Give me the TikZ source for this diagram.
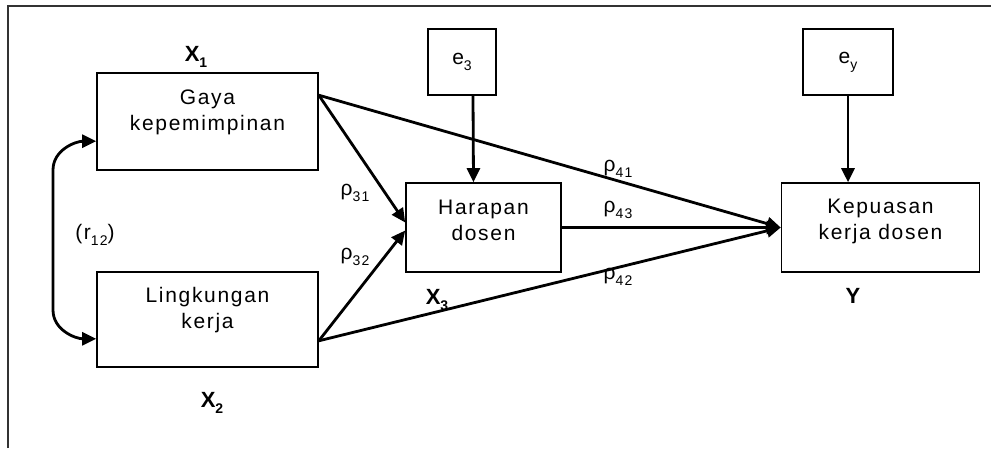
\documentclass[tikz,border=0pt]{standalone}
\usepackage{fontspec}
\setmainfont{Liberation Sans}[LetterSpace=8]
\usetikzlibrary{arrows.meta}
\newcommand{\sbs}[1]{\raisebox{-0.28em}{\fontsize{14}{14}\selectfont #1}}
\tikzset{
  box/.style={draw=black, line width=1.6pt, inner sep=0pt, fill=white},
  txt/.style={font=\fontsize{21}{26}\selectfont, align=center, inner sep=0pt},
  lbl/.style={font=\fontsize{21}{26}\selectfont, inner sep=0pt},
  xlbl/.style={font=\fontsize{22}{26}\selectfont\bfseries, inner sep=0pt},
  arr/.style={line width=2.8pt, -{Triangle[length=14pt,width=13pt]}},
}
\begin{document}
\begin{tikzpicture}[x=1pt,y=-1pt]
\useasboundingbox (0,0) rectangle (991,448);
% frame
\draw[line width=1.8pt, black!80] (8,448) -- (8,6) -- (991,6);
% boxes
\node[box, minimum width=221pt, minimum height=97pt] (gaya) at (207.5,121.5) {};
\node[box, minimum width=221pt, minimum height=95pt] (ling) at (207.5,319.5) {};
\node[box, minimum width=155pt, minimum height=89pt] (har) at (483.5,227.5) {};
\node[box, minimum width=198pt, minimum height=89pt] (kep) at (880.5,227.5) {};
\node[box, minimum width=68pt, minimum height=66pt] (e3) at (462,62) {};
\node[box, minimum width=90pt, minimum height=66pt] (ey) at (848,62) {};
% box texts
\node[txt] at ([yshift=9pt]gaya.center) {Gaya\\kepemimpinan};
\node[txt] at ([yshift=9pt]ling.center) {Lingkungan\\kerja};
\node[txt] at ([yshift=7pt]har.center) {Harapan\\dosen};
\node[txt] at ([yshift=6pt]kep.center) {Kepuasan\\kerja dosen};
\node[lbl] at (e3.center) {e\sbs{3}};
\node[lbl] at (ey.center) {e\sbs{y}};
% named anchor points
\coordinate (g1) at ([yshift=-23pt]gaya.north east);
\coordinate (l1) at ([yshift=27pt]ling.south east);
\coordinate (gl) at ([yshift=-69pt]gaya.north west);
\coordinate (ll) at ([yshift=29pt]ling.south west);
% arrows
\draw[arr] (g1) -- ([yshift=5pt]har.west);
\draw[arr] (l1) -- ([yshift=-3pt]har.west);
\draw[arr] (g1) -- (kep.west);
\draw[arr] (l1) -- (kep.west);
\draw[arr] (har.east) -- (kep.west);
\draw[arr] ([xshift=11pt]e3.south) -- ([xshift=-10pt]har.north);
\draw[arr] (ey.south) -- (ey.south |- kep.north);
\draw[line width=2.8pt, {Triangle[length=14pt,width=13pt]}-{Triangle[length=14pt,width=13pt]}]
  (gl) to[out=180,in=90] (53,170) -- (53,310) to[out=-90,in=180] (ll);
% labels
\node[xlbl] at (196,57) {X\sbs{\bfseries 1}};
\node[xlbl] at (212,403) {X\sbs{\bfseries 2}};
\node[xlbl] at (437,300) {X\sbs{\bfseries 3}};
\node[xlbl] at (853,296) {Y};
\node[lbl] at (95,235) {(r\sbs{12})};
\node[lbl] at (355,193) {ρ\sbs{31}};
\node[lbl] at (355,257) {ρ\sbs{32}};
\node[lbl] at (618,169) {ρ\sbs{41}};
\node[lbl] at (618,210) {ρ\sbs{43}};
\node[lbl] at (618,277) {ρ\sbs{42}};
\end{tikzpicture}
\end{document}
